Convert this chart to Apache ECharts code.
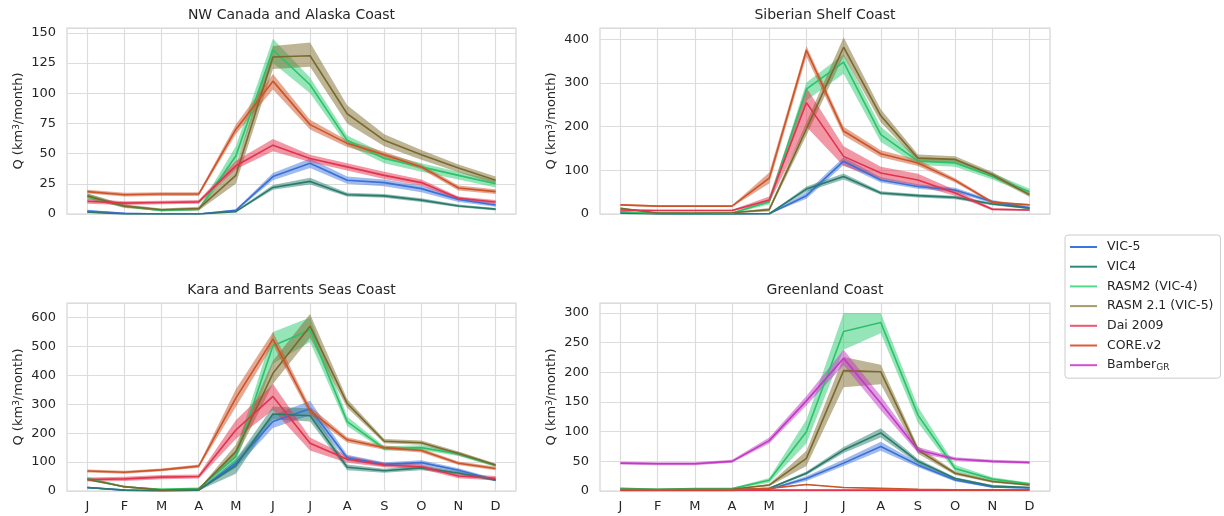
<!DOCTYPE html>
<html>
<head>
<meta charset="utf-8">
<script src="https://cdn.jsdelivr.net/npm/echarts@6/dist/echarts.min.js"></script>
<style>
  html, body { margin: 0; padding: 0; background: #fff; }
  #chart { width: 1224px; height: 516px; }
</style>
</head>
<body>
<div id="chart"></div>
<script>
// month tick labels
const MONTHS = ['J', 'F', 'M', 'A', 'M', 'J', 'J', 'A', 'S', 'O', 'N', 'D'];
const MODELS = ['VIC-5', 'VIC4', 'RASM2 (VIC-4)', 'RASM 2.1 (VIC-5)', 'Dai 2009', 'CORE.v2', 'Bamber'];

// NW Canada and Alaska Coast
const nwVic5 = [2.5, 0.5, 0, 0, 3, 31, 42, 28, 26, 21, 12, 7.5];
const nwVic5Lo = [1.5, 0, 0, 0, 2, 28, 38, 25, 23, 18, 10, 6];
const nwVic5Hi = [3.5, 1, 0.5, 0.5, 4, 34, 46, 31, 28.5, 23.5, 14, 9];
const nwVic4 = [1.5, 0, 0, 0, 2, 22, 27, 16, 15, 11.5, 6.6, 4];
const nwVic4Lo = [1, 0, 0, 0, 1.5, 20, 24.5, 14.5, 13.5, 10, 5.5, 3];
const nwVic4Hi = [2, 0.5, 0.5, 0.5, 3, 24, 30, 17.5, 16.5, 13, 7.8, 5];
const nwRasm2 = [14.5, 6.5, 3, 4, 48, 136, 107, 61, 46, 39, 32, 25];
const nwRasm2Lo = [12, 5.5, 2, 3, 42, 125, 100, 57, 42, 35, 28.5, 22];
const nwRasm2Hi = [17, 7.5, 4, 5, 56, 145, 113, 65, 50, 42, 35, 28];
const nwRasm21 = [15, 6.5, 3.5, 4.5, 32, 130, 131, 83, 61, 49, 38, 28];
const nwRasm21Lo = [13, 5, 2.5, 3, 25, 120, 122, 75, 56, 45, 34.5, 25];
const nwRasm21Hi = [17, 8, 4.5, 6, 40, 139, 142, 90, 66, 53, 41, 31];
const nwDai = [10.5, 9, 9.5, 10, 40, 57, 46, 39, 32, 26, 13, 10];
const nwDaiLo = [8.5, 7.5, 8, 8.5, 37, 52, 43, 36, 29, 23.5, 11.5, 8.5];
const nwDaiHi = [12.5, 10.5, 11, 11.5, 44, 62, 49, 42, 35, 28.5, 14.5, 11.5];
const nwCore = [18.5, 16, 16.5, 16.5, 70, 110, 74, 58.5, 49, 39, 21.5, 18.5];
const nwCoreLo = [17, 14.5, 15, 15, 66, 103, 70, 55.5, 46.5, 37, 19.5, 16.5];
const nwCoreHi = [20, 17.5, 18, 18, 74, 116, 78, 61, 51.5, 41, 23.5, 20.5];

// Siberian Shelf Coast
const sibVic5 = [4, 0.5, 0, 0, 0.5, 42, 121, 78, 63, 55, 28, 14];
const sibVic5Lo = [2, 0, 0, 0, 0, 35, 112, 72, 58, 50, 24, 11];
const sibVic5Hi = [6, 1, 0.5, 0.5, 1, 50, 130, 84, 68, 60, 32, 17];
const sibVic4 = [2, 0, 0, 0, 0.5, 57, 86, 48, 42, 38, 23, 13];
const sibVic4Lo = [1, 0, 0, 0, 0, 51, 79, 44, 38, 34, 20, 11];
const sibVic4Hi = [3, 0.5, 0.5, 0.5, 1, 63, 93, 52, 46, 42, 26, 15];
const sibRasm2 = [5, 2, 1, 2, 28, 286, 348, 182, 121, 117, 86, 51];
const sibRasm2Lo = [3, 1, 0.5, 1, 22, 260, 321, 165, 112, 108, 79, 45];
const sibRasm2Hi = [7, 3, 1.5, 3, 34, 301, 366, 200, 130, 126, 94, 58];
const sibRasm21 = [13, 2, 2, 3, 10, 195, 382, 225, 128, 125, 90, 44];
const sibRasm21Lo = [11, 1, 1, 2, 6, 180, 362, 210, 120, 118, 84, 39];
const sibRasm21Hi = [15, 3, 3, 4, 14, 210, 405, 240, 136, 132, 96, 49];
const sibDai = [9, 8, 8, 8, 32, 255, 132, 94, 78, 48, 11, 9];
const sibDaiLo = [7, 6.5, 6.5, 6.5, 25, 200, 110, 80, 65, 42, 8, 7];
const sibDaiHi = [11, 9.5, 9.5, 9.5, 40, 290, 155, 108, 92, 55, 14, 11];
const sibCore = [21, 18, 18, 18, 82, 375, 190, 138, 117, 77, 27, 21];
const sibCoreLo = [19, 16, 16, 16, 70, 360, 180, 130, 110, 72, 24, 19];
const sibCoreHi = [23, 20, 20, 20, 95, 385, 200, 146, 124, 82, 30, 23];

// Kara and Barrents Seas Coast
const karaVic5 = [12, 3, 1, 3, 96, 240, 284, 115, 92, 98, 72, 38];
const karaVic5Lo = [9, 2, 0, 2, 80, 218, 262, 105, 85, 90, 65, 34];
const karaVic5Hi = [15, 4, 2, 4, 110, 262, 312, 125, 99, 106, 79, 42];
const karaVic4 = [12, 3, 1, 3, 88, 266, 260, 82, 70, 80, 62, 38];
const karaVic4Lo = [9, 2, 0, 2, 60, 248, 240, 72, 63, 72, 56, 34];
const karaVic4Hi = [15, 4, 2, 4, 110, 292, 285, 92, 77, 88, 68, 42];
const karaRasm2 = [44, 14, 6, 9, 119, 502, 557, 240, 147, 150, 128, 88];
const karaRasm2Lo = [40, 11, 4, 7, 100, 440, 515, 225, 140, 142, 121, 83];
const karaRasm2Hi = [48, 17, 8, 11, 140, 550, 600, 258, 155, 158, 136, 93];
const karaRasm21 = [40, 15, 3, 6, 136, 407, 570, 303, 172, 167, 130, 90];
const karaRasm21Lo = [36, 12, 1, 4, 115, 370, 530, 288, 165, 160, 123, 85];
const karaRasm21Hi = [44, 18, 5, 8, 160, 450, 612, 318, 180, 175, 137, 95];
const karaDai = [40, 42, 48, 50, 211, 327, 165, 110, 90, 84, 52, 44];
const karaDaiLo = [33, 35, 41, 43, 180, 280, 140, 98, 82, 76, 44, 36];
const karaDaiHi = [47, 49, 55, 57, 245, 370, 185, 122, 98, 92, 60, 52];
const karaCore = [69, 65, 73, 86, 321, 525, 278, 177, 150, 140, 96, 78];
const karaCoreLo = [64, 60, 68, 80, 290, 505, 264, 168, 143, 133, 90, 72];
const karaCoreHi = [74, 70, 78, 92, 352, 550, 292, 186, 157, 147, 102, 84];

// Greenland Coast
const glVic5 = [1, 1, 1, 1, 3, 21, 47, 75, 44, 18.6, 7, 5];
const glVic5Lo = [0, 0, 0, 0, 2, 17, 42, 68, 40, 16, 5.5, 4];
const glVic5Hi = [2, 2, 2, 2, 4, 25, 53, 83, 48, 21, 8.5, 6];
const glVic4 = [2, 2, 2, 2, 4.5, 30, 69, 98, 50, 21, 8.4, 6];
const glVic4Lo = [1, 1, 1, 1, 3.5, 27, 64, 90, 46, 19, 7, 5];
const glVic4Hi = [3, 3, 3, 3, 5.5, 33, 74, 106, 54, 23, 10, 7];
const glRasm2 = [4.5, 3, 4, 4, 18, 100, 269, 284, 128, 38, 20, 12];
const glRasm2Lo = [3.5, 2, 3, 3, 14, 80, 238, 266, 115, 33, 17, 10];
const glRasm2Hi = [5.5, 4, 5, 5, 22, 120, 300, 300, 142, 44, 23, 14];
const glRasm21 = [3, 2.5, 3, 3, 10, 55, 203, 201, 69, 30, 16, 10];
const glRasm21Lo = [2, 1.5, 2, 2, 8, 42, 175, 180, 63, 27, 14, 8.5];
const glRasm21Hi = [4, 3.5, 4, 4, 12, 68, 226, 213, 75, 33, 18, 11.5];
const glDai = [1.5, 1.5, 1.5, 1.5, 1.5, 1.5, 1.5, 1.5, 1.5, 1.5, 1.5, 1.5];
const glDaiLo = [1, 1, 1, 1, 1, 1, 1, 1, 1, 1, 1, 1];
const glDaiHi = [2, 2, 2, 2, 2, 2, 2, 2, 2, 2, 2, 2];
const glCore = [2, 2, 2, 2, 4.5, 11, 6, 4.5, 3, 2, 2, 2];
const glCoreLo = [1.5, 1.5, 1.5, 1.5, 4, 10, 5.5, 4, 2.5, 1.5, 1.5, 1.5];
const glCoreHi = [2.5, 2.5, 2.5, 2.5, 5, 12, 6.5, 5, 3.5, 2.5, 2.5, 2.5];
const glBamber = [47, 46, 46, 50, 85, 152, 224, 148, 69, 54, 50, 48];
const glBamberLo = [44.5, 43.5, 43.5, 47.5, 80, 144, 212, 136, 64, 51, 47.5, 45.5];
const glBamberHi = [49.5, 48.5, 48.5, 52.5, 90, 160, 238, 160, 74, 57, 52.5, 50.5];

const LINE_COLORS = ['#3a6fd6', '#2a7a6c', '#2cc26a', '#7a6a2e', '#e0334e', '#cc5428', '#c03ac4'];
const BAND_COLORS = ['rgba(66,120,222,0.5)', 'rgba(42,128,112,0.5)', 'rgba(46,204,113,0.5)',
  'rgba(125,108,48,0.5)', 'rgba(228,48,76,0.5)', 'rgba(204,84,40,0.5)', 'rgba(192,58,196,0.5)'];
const LEGEND_COLORS = ['#3b76e0', '#2f8a7a', '#50dc8c', '#a89a6a', '#ee5570', '#dd5a3a', '#d050d0'];

const panels = [
  {
    title: 'NW Canada and Alaska Coast', max: 154, interval: 25,
    grid: { left: 67, top: 28, width: 449, height: 186 }, labels: false,
    lines: [[nwVic5, nwVic5Lo, nwVic5Hi], [nwVic4, nwVic4Lo, nwVic4Hi], [nwRasm2, nwRasm2Lo, nwRasm2Hi],
      [nwRasm21, nwRasm21Lo, nwRasm21Hi], [nwDai, nwDaiLo, nwDaiHi], [nwCore, nwCoreLo, nwCoreHi]]
  },
  {
    title: 'Siberian Shelf Coast', max: 426, interval: 100,
    grid: { left: 600, top: 28, width: 450, height: 186 }, labels: false,
    lines: [[sibVic5, sibVic5Lo, sibVic5Hi], [sibVic4, sibVic4Lo, sibVic4Hi], [sibRasm2, sibRasm2Lo, sibRasm2Hi],
      [sibRasm21, sibRasm21Lo, sibRasm21Hi], [sibDai, sibDaiLo, sibDaiHi], [sibCore, sibCoreLo, sibCoreHi]]
  },
  {
    title: 'Kara and Barrents Seas Coast', max: 650, interval: 100,
    grid: { left: 67, top: 303, width: 449, height: 188 }, labels: true,
    lines: [[karaVic5, karaVic5Lo, karaVic5Hi], [karaVic4, karaVic4Lo, karaVic4Hi], [karaRasm2, karaRasm2Lo, karaRasm2Hi],
      [karaRasm21, karaRasm21Lo, karaRasm21Hi], [karaDai, karaDaiLo, karaDaiHi], [karaCore, karaCoreLo, karaCoreHi]]
  },
  {
    title: 'Greenland Coast', max: 317, interval: 50,
    grid: { left: 600, top: 303, width: 450, height: 188 }, labels: true,
    lines: [[glVic5, glVic5Lo, glVic5Hi], [glVic4, glVic4Lo, glVic4Hi], [glRasm2, glRasm2Lo, glRasm2Hi],
      [glRasm21, glRasm21Lo, glRasm21Hi], [glDai, glDaiLo, glDaiHi], [glCore, glCoreLo, glCoreHi],
      [glBamber, glBamberLo, glBamberHi]]
  }
];

const FONT = 'DejaVu Sans';
const TEXT = '#262626';
const GRIDLINE = { color: '#dcdcdc', width: 1.2 };
const IDX = MONTHS.map((m, i) => i);

// shaded band between lo and hi, drawn once as a polygon
function bandSeries(p, k, lo, hi) {
  return {
    type: 'custom',
    name: MODELS[k] + ' band',
    xAxisIndex: p, yAxisIndex: p,
    silent: true,
    data: lo.map((v, i) => [i, v, hi[i]]),
    encode: { x: 0, y: [1, 2] },
    renderItem: function (params, api) {
      if (params.dataIndex !== 0) return null;
      const top = hi.map((v, i) => api.coord([i, v]));
      const bot = lo.map((v, i) => api.coord([i, v])).reverse();
      return {
        type: 'polygon',
        shape: { points: top.concat(bot) },
        style: { fill: BAND_COLORS[k], stroke: null }
      };
    }
  };
}

const series = [];
panels.forEach((pnl, p) => {
  pnl.lines.forEach((l, k) => {
    series.push(bandSeries(p, k, l[1], l[2]));
    series.push({
      type: 'line',
      name: MODELS[k],
      xAxisIndex: p, yAxisIndex: p,
      data: l[0].map((v, i) => [i, v]),
      symbol: 'none',
      silent: true,
      lineStyle: { color: LINE_COLORS[k], width: 1.6 },
      itemStyle: { color: LINE_COLORS[k] }
    });
  });
});

const option = {
  animation: false,
  backgroundColor: '#fff',
  textStyle: { fontFamily: FONT },
  title: panels.map(pnl => ({
    text: pnl.title,
    left: pnl.grid.left + pnl.grid.width / 2,
    top: pnl.grid.top - 20,
    textAlign: 'center',
    padding: 0,
    textStyle: { fontFamily: FONT, fontSize: 14, fontWeight: 'normal', color: TEXT }
  })),
  grid: panels.map(pnl => Object.assign({
    show: true, borderColor: '#d4d4d4', borderWidth: 1.2, containLabel: false
  }, pnl.grid)),
  xAxis: panels.map((pnl, p) => ({
    type: 'value', gridIndex: p, min: -0.55, max: 11.55,
    axisLine: { show: false },
    axisTick: { show: false, customValues: IDX },
    axisLabel: {
      show: pnl.labels, customValues: IDX, margin: 9,
      fontFamily: FONT, fontSize: 13, color: TEXT,
      formatter: v => MONTHS[Math.round(v)]
    },
    splitLine: { show: true, lineStyle: GRIDLINE }
  })),
  yAxis: panels.map((pnl, p) => ({
    type: 'value', gridIndex: p, min: 0, max: pnl.max, interval: pnl.interval,
    axisLine: { show: false },
    axisTick: { show: false },
    axisLabel: { fontFamily: FONT, fontSize: 13, color: TEXT, margin: 11, showMaxLabel: false },
    splitLine: { lineStyle: GRIDLINE },
    name: 'Q (km{sup|3}/month)',
    nameLocation: 'middle',
    nameGap: 42,
    nameTextStyle: {
      fontFamily: FONT, fontSize: 13, color: TEXT,
      rich: { sup: { fontFamily: FONT, fontSize: 9, color: TEXT, verticalAlign: 'top' } }
    }
  })),
  legend: {
    orient: 'vertical',
    left: 1065, top: 235,
    padding: [5, 7, 6, 5],
    icon: 'rect',
    itemWidth: 27, itemHeight: 2, itemGap: 5.7,
    borderColor: '#cccccc', borderWidth: 1, borderRadius: 3,
    backgroundColor: '#fff',
    selectedMode: false,
    data: MODELS.map((n, i) => ({
      name: n,
      itemStyle: { color: LEGEND_COLORS[i] }
    })),
    formatter: n => n === 'Bamber' ? 'Bamber{sub|GR}' : n,
    textStyle: {
      fontFamily: FONT, fontSize: 12.5, color: TEXT, padding: [0, 0, 0, 5], lineHeight: 14,
      rich: { sub: { fontFamily: FONT, fontSize: 9, color: TEXT, verticalAlign: 'bottom', lineHeight: 14 } }
    }
  },
  series: series
};

const chart = echarts.init(document.getElementById('chart'), null, { renderer: 'canvas' });
chart.setOption(option);
</script>
</body>
</html>
